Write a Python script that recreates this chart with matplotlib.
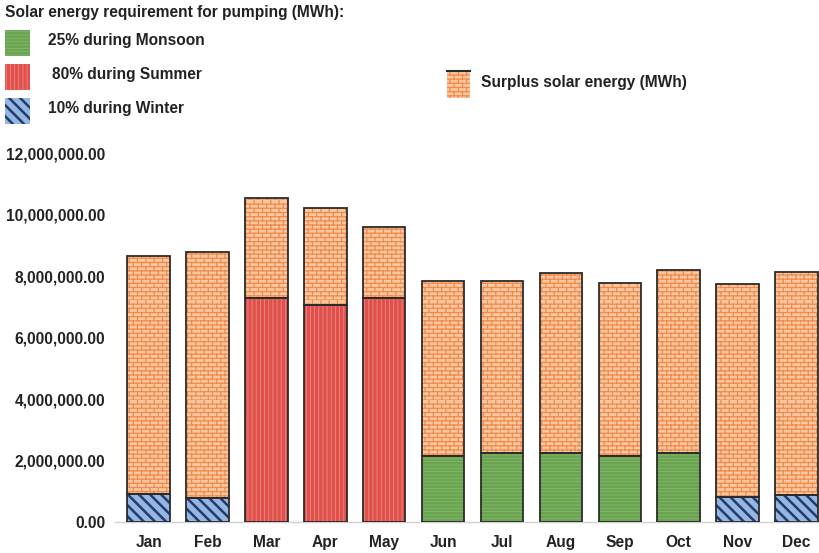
import warnings
import numpy as np
import matplotlib
matplotlib.use("Agg")
import matplotlib.pyplot as plt
import matplotlib.hatch as mhatch
from matplotlib.path import Path
from matplotlib.patches import Rectangle
from matplotlib.lines import Line2D
from matplotlib.ticker import FuncFormatter

warnings.filterwarnings("ignore")

# ---------------- data ----------------
months = ["Jan", "Feb", "Mar", "Apr", "May", "Jun",
          "Jul", "Aug", "Sep", "Oct", "Nov", "Dec"]
monsoon = [0, 0, 0, 0, 0, 2150000, 2240000, 2240000, 2150000, 2240000, 0, 0]
summer = [0, 0, 7280000, 7060000, 7280000, 0, 0, 0, 0, 0, 0, 0]
winter = [910000, 780000, 0, 0, 0, 0, 0, 0, 0, 0, 810000, 880000]
total = [8650000, 8780000, 10540000, 10210000, 9590000, 7840000,
         7840000, 8100000, 7770000, 8200000, 7740000, 8130000]
yticks = [0, 2000000, 4000000, 6000000, 8000000, 10000000, 12000000]

legend_title = "Solar energy requirement for pumping (MWh):"
lab_monsoon = "25% during Monsoon"
lab_summer = "80% during Summer"
lab_winter = "10% during Winter"
lab_surplus = "Surplus solar energy (MWh)"


# ---------------- custom brick hatch ----------------
class BrickHatch(mhatch.HatchPatternBase):
    def __init__(self, hatch, density):
        self.rows = int(hatch.count('b') * density)
        if self.rows % 2:
            self.rows += 1
        self.m = self.rows // 2
        self.num_vertices = (2 * self.rows + 2 * self.rows * self.m) if self.rows else 0

    def set_vertices_and_codes(self, vertices, codes):
        r, m = self.rows, self.m
        k = 0
        for i in range(r):
            y = i / r
            vertices[k] = (0.0, y); codes[k] = Path.MOVETO; k += 1
            vertices[k] = (1.0, y); codes[k] = Path.LINETO; k += 1
        for i in range(r):
            y0 = i / r
            y1 = (i + 1) / r
            off = 0.5 * (i % 2)
            for j in range(m):
                xx = (j + off) / m
                vertices[k] = (xx, y0); codes[k] = Path.MOVETO; k += 1
                vertices[k] = (xx, y1); codes[k] = Path.LINETO; k += 1


mhatch._hatch_types.append(BrickHatch)

plt.rcParams['font.family'] = ['Liberation Sans', 'DejaVu Sans']
plt.rcParams['font.weight'] = 'bold'
FS = 11.2

fig = plt.figure(figsize=(8.2, 5.53), dpi=100)
ax = fig.add_axes([0.14, 0.056, 0.86, 0.667])

x = np.arange(len(months))
W = 0.72
surplus = [t - a - b - c for t, a, b, c in zip(total, monsoon, summer, winter)]
req = [a + b + c for a, b, c in zip(monsoon, summer, winter)]

C_BRICK_FACE = "#fbc7a0"
C_BRICK_LINE = "#f08b4c"
C_RED = "#e0514b"
C_RED_LINE = "#ef8883"
C_GREEN = "#6ba551"
C_GREEN_LINE = "#88bb70"
C_BLUE = "#93b6e2"
C_BLUE_LINE = "#243a6a"
EDGE = "#2b2b2b"


def hbar(vals, bottom, face, hcol, hatch, lw=0.8):
    plt.rcParams['hatch.linewidth'] = lw
    ax.bar(x, vals, W, bottom=bottom, color=face, edgecolor=hcol,
           hatch=hatch, linewidth=0, zorder=2)


hbar(winter, 0, C_BLUE, C_BLUE_LINE, "\\\\\\", lw=1.8)
hbar(summer, 0, C_RED, C_RED_LINE, "||||", lw=0.6)
hbar(monsoon, 0, C_GREEN, C_GREEN_LINE, "-----", lw=0.5)
hbar(surplus, req, C_BRICK_FACE, C_BRICK_LINE, "bbbb", lw=0.9)

# outlines
for vals, bot in [(req, 0), (surplus, req)]:
    ax.bar(x, vals, W, bottom=bot, facecolor="none", edgecolor=EDGE,
           linewidth=1.3, zorder=3)

ax.set_xlim(-0.575, 11.4)
ax.set_ylim(0, 12000000)
ax.set_yticks(yticks)
ax.yaxis.set_major_formatter(FuncFormatter(lambda v, p: f"{v:,.2f}"))
ax.set_xticks(x)
ax.set_xticklabels(months)
ax.tick_params(axis='both', length=0, labelsize=FS, colors="#222222")
ax.tick_params(axis='y', pad=7)
ax.tick_params(axis='x', pad=9)
for s in ["top", "right", "left"]:
    ax.spines[s].set_visible(False)
ax.spines["bottom"].set_color("#d0d0d0")
ax.spines["bottom"].set_linewidth(1.0)
ax.spines["bottom"].set_zorder(1)

# ---------------- legend (figure coords) ----------------
def fx(px):
    return px / 820.0


def fy(py):
    return 1 - py / 553.0


fig.text(fx(5), fy(13), legend_title, fontsize=FS, fontweight='bold',
         va='center', ha='left', color="#222222")

entries = [
    (lab_monsoon, C_GREEN, C_GREEN_LINE, "-----", 0.5, 30, 56, 48),
    (lab_summer, C_RED, C_RED_LINE, "||||", 0.6, 64, 90, 52),
    (lab_winter, C_BLUE, C_BLUE_LINE, "\\\\\\", 1.8, 98, 124, 48),
]
for lab, face, hc, ht, lw, y0, y1, tx in entries:
    plt.rcParams['hatch.linewidth'] = lw
    r = Rectangle((fx(5), fy(y1)), fx(30) - fx(5), fy(y0) - fy(y1),
                  transform=fig.transFigure, facecolor=face, edgecolor=hc,
                  hatch=ht, linewidth=0)
    fig.patches.append(r)
    fig.text(fx(tx), fy((y0 + y1) / 2 - 3), lab, fontsize=FS,
             fontweight='bold', va='center', ha='left', color="#222222")

plt.rcParams['hatch.linewidth'] = 0.9
r = Rectangle((fx(447), fy(98)), fx(470) - fx(447), fy(71) - fy(98),
              transform=fig.transFigure, facecolor=C_BRICK_FACE,
              edgecolor=C_BRICK_LINE, hatch="bbbb", linewidth=0)
fig.patches.append(r)
ln = Line2D([fx(447), fx(470)], [fy(71), fy(71)],
            transform=fig.transFigure, color=EDGE, lw=1.5)
fig.lines.append(ln)
fig.text(fx(481), fy(82), lab_surplus, fontsize=FS, fontweight='bold',
         va='center', ha='left', color="#222222")

fig.savefig("out.png", dpi=100)
